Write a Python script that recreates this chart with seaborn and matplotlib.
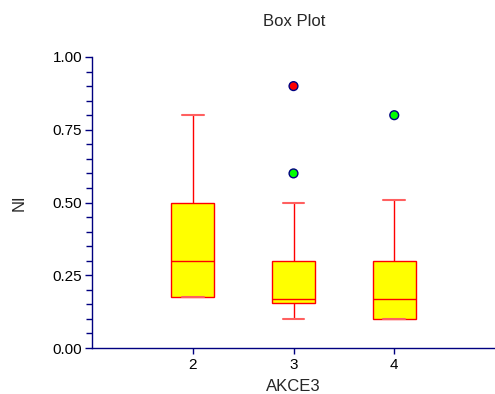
import matplotlib
matplotlib.use("Agg")
import matplotlib.pyplot as plt
import seaborn as sns
import pandas as pd
from matplotlib.ticker import MultipleLocator

# Data
group2 = [0.175, 0.175, 0.30, 0.50, 0.80]
group3 = [0.10, 0.12, 0.15, 0.155, 0.16, 0.165, 0.17, 0.20, 0.25, 0.30, 0.50, 0.60, 0.90]
group4 = [0.10, 0.10, 0.10, 0.15, 0.17, 0.20, 0.30, 0.51, 0.80]
groups = [2, 3, 4]

# outliers (mild = green, extreme = red)
out_x = [3, 3, 4]
out_y = [0.60, 0.90, 0.80]
out_kind = ["mild", "extreme", "mild"]

rows = []
for g, vals in zip(groups, [group2, group3, group4]):
    for v in vals:
        rows.append({"AKCE3": g, "NI": v})
df = pd.DataFrame(rows)
odf = pd.DataFrame({"AKCE3": out_x, "NI": out_y, "kind": out_kind})

sns.set_style("white")
plt.rcParams['font.family'] = ['Liberation Sans', 'DejaVu Sans']

fig = plt.figure(figsize=(4.95, 3.94), dpi=100)
ax = fig.add_axes([92/495, 1-348/394, 1-92/495, (348-57)/394])

navy = "#000080"
red = "#FF0000"

sns.boxplot(data=df, x="AKCE3", y="NI", native_scale=True, width=0.43,
            showfliers=False, whis=1.5, ax=ax,
            boxprops=dict(facecolor="#FFFF00", edgecolor=red, linewidth=1.0),
            medianprops=dict(color=red, linewidth=1.0),
            whiskerprops=dict(color=red, linewidth=1.0),
            capprops=dict(color="#FF6060", linewidth=1.5),
            linecolor=red)

sns.scatterplot(data=odf, x="AKCE3", y="NI", hue="kind",
                palette={"mild": "#00FF00", "extreme": "#FF0000"},
                s=40, edgecolor=navy, linewidth=1.0, legend=False, ax=ax, zorder=5)

ax.set_xlim(1, 5)
ax.set_ylim(0, 1.0)
ax.set_xticks(groups)
ax.set_xticklabels([str(g) for g in groups])
ax.yaxis.set_major_locator(MultipleLocator(0.25))
ax.yaxis.set_minor_locator(MultipleLocator(0.05))
ax.yaxis.set_major_formatter(matplotlib.ticker.FormatStrFormatter("%.2f"))

for s in ["top", "right"]:
    ax.spines[s].set_visible(False)
for s in ["left", "bottom"]:
    ax.spines[s].set_color(navy)
    ax.spines[s].set_linewidth(1.0)

ax.tick_params(axis="both", which="both", color=navy, direction="out",
               labelsize=11, labelcolor="black", left=True, bottom=True)
ax.tick_params(axis="y", which="major", length=5, width=1, pad=2)
ax.tick_params(axis="y", which="minor", length=4, width=1)
ax.tick_params(axis="x", which="major", length=4, width=1, pad=3)
ax.tick_params(axis="x", which="minor", bottom=False)

ax.set_xlabel("AKCE3", fontsize=12, labelpad=5)
ax.set_ylabel("")
fig.text(19/495, 1-203/394, "NI", rotation=90, fontsize=12, ha="center", va="center")
fig.text(294/495, 1-21/394, "Box Plot", fontsize=12, ha="center", va="center")

fig.savefig("out.png", dpi=100)
